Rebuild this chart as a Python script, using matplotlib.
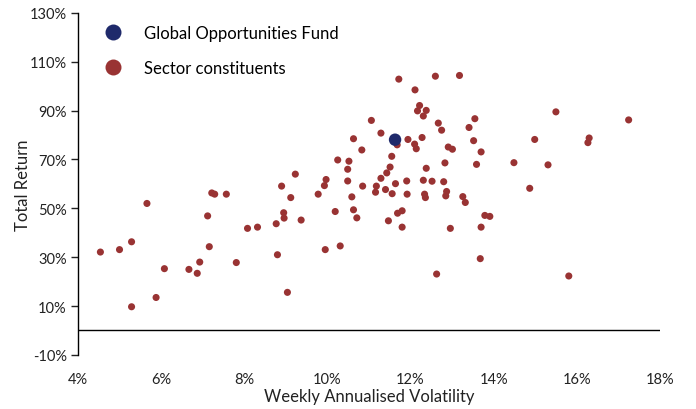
import numpy as np
import matplotlib.pyplot as plt
from matplotlib.lines import Line2D
from matplotlib.ticker import FuncFormatter

plt.rcParams['font.family'] = ['Lato', 'DejaVu Sans']

# sector constituents: weekly annualised volatility (%) and total return (%)
vol = [4.54, 5.00, 5.29, 5.29, 5.66, 5.88, 6.08, 6.67, 6.87, 6.93,
       7.12, 7.16, 7.22, 7.29, 7.57, 7.81, 8.08, 8.32, 8.77, 8.80,
       8.90, 8.95, 8.96, 9.04, 9.12, 9.23, 9.37, 9.78, 9.93, 9.95,
       9.97, 10.19, 10.25, 10.31, 10.49, 10.49, 10.52, 10.59, 10.63, 10.63,
       10.71, 10.83, 10.85, 11.06, 11.16, 11.18, 11.29, 11.29, 11.40, 11.43,
       11.47, 11.51, 11.55, 11.56, 11.64, 11.68, 11.69, 11.72, 11.80, 11.80,
       11.91, 11.92, 11.94, 12.10, 12.11, 12.14, 12.17, 12.22, 12.28, 12.31,
       12.31, 12.34, 12.36, 12.38, 12.38, 12.52, 12.60, 12.63, 12.67, 12.75,
       12.80, 12.83, 12.85, 12.87, 12.91, 12.96, 13.01, 13.18, 13.26, 13.32,
       13.41, 13.52, 13.55, 13.59, 13.68, 13.70, 13.70, 13.79, 13.91, 14.49,
       14.87, 14.99, 15.31, 15.50, 15.81, 16.27, 16.30, 17.25]
ret = [32.1, 33.1, 36.3, 9.7, 52.0, 13.5, 25.3, 25.0, 23.4, 28.0,
       46.9, 34.3, 56.3, 55.8, 55.8, 27.8, 41.8, 42.3, 43.7, 31.0,
       59.1, 48.2, 46.0, 15.6, 54.4, 64.0, 45.2, 55.8, 59.3, 33.1,
       61.8, 48.7, 69.8, 34.6, 66.0, 61.2, 69.3, 54.7, 78.5, 49.4,
       46.1, 73.9, 59.1, 86.0, 56.6, 59.1, 80.8, 62.3, 57.7, 64.5,
       44.9, 66.9, 71.3, 56.0, 60.1, 76.0, 48.0, 102.9, 49.0, 42.3,
       61.2, 55.8, 78.2, 76.3, 98.5, 74.4, 89.9, 92.1, 79.0, 87.8,
       61.5, 55.8, 54.4, 90.1, 66.4, 61.1, 104.1, 23.1, 84.9, 82.0,
       60.9, 68.6, 55.1, 56.9, 75.1, 41.8, 74.2, 104.4, 54.8, 52.4,
       83.1, 77.7, 86.7, 68.0, 29.4, 73.1, 42.3, 47.1, 46.7, 68.7,
       58.2, 78.2, 67.8, 89.5, 22.3, 76.9, 78.8, 86.2]

fund_vol = [11.63]
fund_ret = [78.1]

red = '#993333'
navy = '#1f2a6b'

fig = plt.figure(figsize=(6.96, 4.10), dpi=100)
ax = fig.add_axes([0.112, 0.132, 0.836, 0.834])

ax.scatter(vol, ret, s=26, color=red, edgecolors='none', zorder=3)
ax.scatter(fund_vol, fund_ret, s=80, color=navy, edgecolors='none', zorder=4)

ax.set_xlim(4, 18)
ax.set_ylim(-10, 130)
ax.set_xticks(np.arange(4, 19, 2))
ax.set_yticks(np.arange(-10, 131, 20))
pct = FuncFormatter(lambda v, p: '%d%%' % round(v))
ax.xaxis.set_major_formatter(pct)
ax.yaxis.set_major_formatter(pct)

for s in ['top', 'right', 'bottom']:
    ax.spines[s].set_visible(False)
ax.spines['left'].set_linewidth(1.0)
ax.axhline(0, color='black', lw=1.0, zorder=2)

ax.tick_params(axis='x', length=0, pad=12, labelsize=10.5, colors='#222222')
ax.tick_params(axis='y', length=5, width=1.0, direction='out', pad=3,
               labelsize=10.5, colors='#222222')

ax.set_xlabel('Weekly Annualised Volatility', fontsize=12, color='#222222', labelpad=2)
ax.set_ylabel('Total Return', fontsize=12, color='#222222', labelpad=-1)

handles = [Line2D([], [], ls='none', marker='o', ms=11.5, color=navy, mec='none'),
           Line2D([], [], ls='none', marker='o', ms=11.5, color=red, mec='none')]
ax.legend(handles, ['Global Opportunities Fund', 'Sector constituents'],
          loc='upper left', bbox_to_anchor=(0.014, 0.995), frameon=False,
          fontsize=12, labelspacing=1.15, handletextpad=0.85, borderaxespad=0.2)

fig.savefig('out.png', dpi=100)
